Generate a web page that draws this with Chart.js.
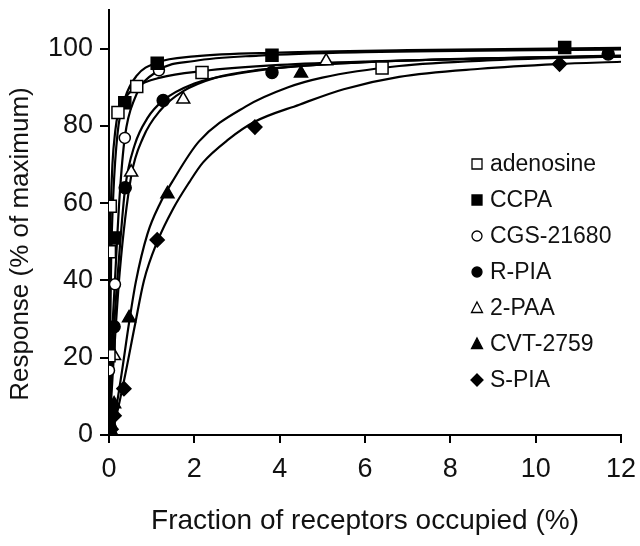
<!DOCTYPE html>
<html>
<head>
<meta charset="utf-8">
<script src="https://cdn.jsdelivr.net/npm/chart.js@4.4.1/dist/chart.umd.min.js"></script>
<style>
  html, body { margin: 0; padding: 0; background: #fff; }
  #wrap { width: 640px; height: 546px; position: relative; }
</style>
</head>
<body>
<div id="wrap"><canvas id="c" width="640" height="546"></canvas></div>
<script>
// ---- Data ----
const seriesNames = ['adenosine', 'CCPA', 'CGS-21680', 'R-PIA', '2-PAA', 'CVT-2759', 'S-PIA'];
const xTitle = 'Fraction of receptors occupied (%)';
const yTitle = 'Response (% of maximum)';

// measured points
const adenosineX = [0.0, 0.01, 0.03, 0.21, 0.65, 2.18, 6.4];
const adenosineY = [20.5, 47.4, 59.2, 83.5, 90.2, 93.8, 95.0];
const ccpaX = [0.0, 0.0, 0.02, 0.0, 0.12, 0.37, 1.13, 3.82, 10.68];
const ccpaY = [0.5, 3.0, 5.5, 23.0, 51.0, 86.0, 96.2, 98.3, 100.3];
const cgsX = [0.0, 0.0, 0.14, 0.37, 1.17];
const cgsY = [3.0, 16.7, 39.0, 76.9, 94.4];
const rpiaX = [0.02, 0.12, 0.38, 1.27, 3.82, 11.7];
const rpiaY = [2.0, 28.0, 64.0, 86.6, 93.8, 98.6];
const paaX = [0.02, 0.12, 0.52, 1.74, 5.09];
const paaY = [3.0, 20.5, 68.0, 86.9, 96.8];
const cvtX = [0.05, 0.12, 0.47, 1.37, 4.5];
const cvtY = [1.0, 8.0, 30.3, 62.4, 93.6];
const spiaX = [0.05, 0.12, 0.35, 1.13, 3.42, 10.56];
const spiaY = [1.5, 5.0, 12.0, 50.5, 79.7, 96.0];

// fitted curves
const adenosineFitX = [0, 0.01, 0.02, 0.04, 0.08, 0.15, 0.21, 0.4, 0.65, 1.2, 2.18, 4, 6.4, 9, 12];
const adenosineFitY = [0, 25, 45, 58, 70, 79, 83, 87.5, 90.2, 92.5, 94.2, 95.8, 96.8, 97.5, 97.9];
const ccpaFitX = [0, 0.02, 0.05, 0.1, 0.2, 0.37, 0.65, 1.13, 2, 4, 7, 12];
const ccpaFitY = [0, 20, 45, 62, 78, 87, 93, 96.4, 98, 99, 99.6, 100.2];
const cgsFitX = [0, 0.05, 0.14, 0.25, 0.37, 0.6, 1.17, 2, 3.5, 6, 12];
const cgsFitY = [0, 20, 40, 62, 77, 87, 94.4, 96.8, 98.2, 99.1, 99.8];
const rpiaFitX = [0, 0.05, 0.12, 0.25, 0.38, 0.6, 0.9, 1.27, 2, 3, 4, 6, 9, 12];
const rpiaFitY = [0, 12, 28, 48, 64, 75, 82, 86.6, 91, 93.5, 95, 96.5, 97.5, 98.2];
const paaFitX = [0, 0.1, 0.25, 0.52, 0.8, 1.2, 1.74, 2.5, 3.5, 5.1, 8, 12];
const paaFitY = [0, 18, 42, 67, 77, 84, 89, 92.5, 94.5, 96, 97.3, 98];
const cvtFitX = [0, 0.1, 0.27, 0.47, 0.63, 0.9, 1.2, 1.48, 2.11, 3.2, 4.2, 5, 6.8, 9, 12];
const cvtFitY = [0, 3, 14, 29, 39.7, 52, 60, 65.5, 76, 85, 90, 92.5, 95.5, 97, 98];
const spiaFitX = [0, 0.1, 0.35, 0.6, 0.82, 1.13, 1.5, 1.88, 2.2, 2.8, 3.4, 4.46, 5.5, 6.8, 8.7, 10.5, 12];
const spiaFitY = [0, 2, 14, 28, 40, 50, 58.5, 65.4, 70.5, 76.5, 81, 85.5, 89.5, 92.7, 94.8, 96, 96.6];

const xTicks = [0, 2, 4, 6, 8, 10, 12];
const yTicks = [0, 20, 40, 60, 80, 100];

// ---- Build chart ----
const pts = (xs, ys) => xs.map((x, i) => ({ x: x, y: ys[i] }));

const markerStyles = [
  { style: 'rect', fill: '#fff', r: 8.5 },
  { style: 'rect', fill: '#000', r: 8.5 },
  { style: 'circle', fill: '#fff', r: 5.5 },
  { style: 'circle', fill: '#000', r: 6 },
  { style: 'triangle', fill: '#fff', r: 7.5 },
  { style: 'triangle', fill: '#000', r: 7.5 },
  { style: 'rectRot', fill: '#000', r: 7 }
];
const markerData = [
  pts(adenosineX, adenosineY), pts(ccpaX, ccpaY), pts(cgsX, cgsY), pts(rpiaX, rpiaY),
  pts(paaX, paaY), pts(cvtX, cvtY), pts(spiaX, spiaY)
];
const fitData = [
  pts(adenosineFitX, adenosineFitY), pts(ccpaFitX, ccpaFitY), pts(cgsFitX, cgsFitY),
  pts(rpiaFitX, rpiaFitY), pts(paaFitX, paaFitY), pts(cvtFitX, cvtFitY), pts(spiaFitX, spiaFitY)
];

const datasets = [];
seriesNames.forEach((name, i) => {
  datasets.push({
    label: name,
    data: markerData[i],
    showLine: false,
    order: 0,
    pointStyle: markerStyles[i].style,
    pointRadius: markerStyles[i].r,
    pointBackgroundColor: markerStyles[i].fill,
    pointBorderColor: '#000',
    pointBorderWidth: 1.5
  });
});
seriesNames.forEach((name, i) => {
  datasets.push({
    label: name + ' fit',
    data: fitData[i],
    showLine: true,
    order: 1,
    borderColor: '#000',
    borderWidth: 2.2,
    pointRadius: 0,
    cubicInterpolationMode: 'monotone',
    fill: false
  });
});

const FONT = "'Liberation Sans', Arial, Helvetica, sans-serif";
const PAD_BOTTOM = 8;

const legendPlugin = {
  id: 'insideLegend',
  afterDraw(chart) {
    const ctx = chart.ctx;
    const x0 = 477, y0 = 164, dy = 36;
    ctx.save();
    ctx.font = '23px ' + FONT;
    ctx.textBaseline = 'middle';
    ctx.textAlign = 'left';
    seriesNames.forEach((name, i) => {
      const y = y0 + i * dy;
      const m = markerStyles[i];
      ctx.fillStyle = m.fill;
      ctx.strokeStyle = '#000';
      ctx.lineWidth = 1.3;
      ctx.beginPath();
      const s = 5;
      if (m.style === 'rect') {
        ctx.rect(x0 - s, y - s, 2 * s, 2 * s);
      } else if (m.style === 'circle') {
        ctx.arc(x0, y, s, 0, Math.PI * 2);
      } else if (m.style === 'triangle') {
        ctx.moveTo(x0, y - s - 1);
        ctx.lineTo(x0 + s + 0.5, y + s - 0.5);
        ctx.lineTo(x0 - s - 0.5, y + s - 0.5);
        ctx.closePath();
      } else {
        ctx.moveTo(x0, y - s - 1);
        ctx.lineTo(x0 + s + 1, y);
        ctx.lineTo(x0, y + s + 1);
        ctx.lineTo(x0 - s - 1, y);
        ctx.closePath();
      }
      ctx.fill();
      ctx.stroke();
      ctx.fillStyle = '#111';
      ctx.fillText(name, x0 + 13, y + 1);
    });
    // y-axis title, placed as in the reference
    ctx.translate(21, 244);
    ctx.rotate(-Math.PI / 2);
    ctx.font = '26px ' + FONT;
    ctx.textAlign = 'center';
    ctx.textBaseline = 'middle';
    ctx.fillStyle = '#111';
    ctx.fillText(yTitle, 0, 0);
    ctx.restore();
  }
};

new Chart(document.getElementById('c'), {
  type: 'scatter',
  data: { datasets: datasets },
  plugins: [legendPlugin],
  options: {
    responsive: false,
    animation: false,
    events: [],
    layout: { padding: { left: 6, right: 19, top: 6, bottom: PAD_BOTTOM } },
    plugins: { legend: { display: false }, tooltip: { enabled: false } },
    scales: {
      x: {
        type: 'linear',
        min: 0, max: 12,
        afterBuildTicks: (s) => { s.ticks = xTicks.map(v => ({ value: v })); },
        afterFit: (s) => { s.height = 546 - 435 - PAD_BOTTOM; s.paddingLeft = 0; s.paddingRight = 0; },
        border: { display: true, color: '#000', width: 2 },
        grid: { display: true, drawOnChartArea: false, drawTicks: true, tickLength: 8, color: '#000', lineWidth: 2 },
        ticks: { color: '#111', font: { family: FONT, size: 27 }, padding: 10, maxRotation: 0 },
        title: { display: true, text: xTitle, color: '#111', font: { family: FONT, size: 28 }, padding: { top: 0, bottom: 0 } }
      },
      y: {
        type: 'linear',
        min: 0, max: 110,
        afterBuildTicks: (s) => { s.ticks = yTicks.map(v => ({ value: v })); },
        afterFit: (s) => { s.width = 109 - 6; s.paddingTop = 0; s.paddingBottom = 0; },
        border: { display: true, color: '#000', width: 2 },
        grid: { display: true, drawOnChartArea: false, drawTicks: true, tickLength: 9, color: '#000', lineWidth: 2 },
        ticks: { color: '#111', font: { family: FONT, size: 27 }, padding: 7 },
        title: { display: false }
      }
    }
  }
});
</script>
</body>
</html>
